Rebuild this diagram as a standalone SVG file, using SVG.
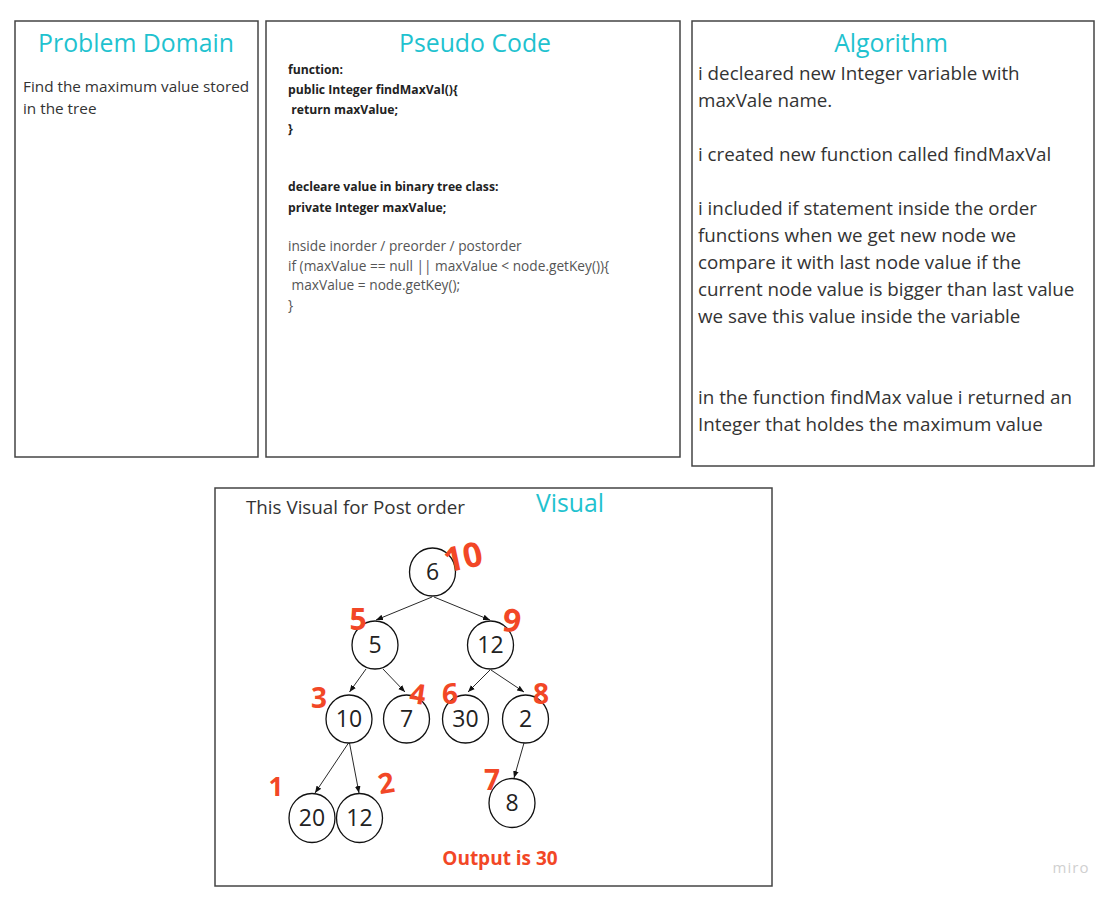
<svg xmlns="http://www.w3.org/2000/svg" width="1113" height="898" viewBox="0 0 1113 898">
<defs>
<style>
.frame{fill:#fff;stroke:#444;stroke-width:1.5}
.title{font-family:"Open Sans","Liberation Sans",sans-serif;font-size:24.8px;fill:#1fc2cf}
.body{font-family:"Open Sans","Liberation Sans",sans-serif;fill:#333}
.code{font-family:"Open Sans","Liberation Sans",sans-serif;font-size:12.2px;fill:#222;font-weight:bold}
.code2{font-family:"Open Sans","Liberation Sans",sans-serif;font-size:13.7px;fill:#555}
.node ellipse{fill:#fff;stroke:#111;stroke-width:1.3}
.node text{font-family:"Open Sans","Liberation Sans",sans-serif;font-size:23px;fill:#222;text-anchor:middle}
.edge{stroke:#111;stroke-width:0.9;fill:none;marker-end:url(#arr)}
.hand{font-family:"Open Sans","Liberation Sans",sans-serif;font-weight:bold;fill:#f24726}
</style>
<marker id="arr" viewBox="0 0 10 10" refX="10" refY="5" markerWidth="7" markerHeight="7" orient="auto" markerUnits="userSpaceOnUse">
<path d="M0,1 L10,5 L0,9 Z" fill="#111"/>
</marker>
</defs>
<rect width="1113" height="898" fill="#fff"/>

<g id="problem-domain">
<rect class="frame" x="15" y="21" width="243" height="436"/>
<text class="title" x="136" y="52" text-anchor="middle">Problem Domain</text>
<text class="body" font-size="15.3" x="23" y="92">Find the maximum value stored</text>
<text class="body" font-size="15.3" x="23" y="114">in the tree</text>
</g>

<g id="pseudo-code">
<rect class="frame" x="266" y="21" width="414" height="436"/>
<text class="title" x="475" y="52" text-anchor="middle">Pseudo Code</text>
<text class="code" x="288" y="74">function:</text>
<text class="code" x="288" y="94">public Integer findMaxVal(){</text>
<text class="code" x="288" y="114" xml:space="preserve"> return maxValue;</text>
<text class="code" x="288" y="133">}</text>
<text class="code" x="288" y="191">decleare value in binary tree class:</text>
<text class="code" x="288" y="212">private Integer maxValue;</text>
<text class="code2" x="288" y="251">inside inorder / preorder / postorder</text>
<text class="code2" x="288" y="271">if (maxValue == null || maxValue &lt; node.getKey()){</text>
<text class="code2" x="288" y="290" xml:space="preserve"> maxValue = node.getKey();</text>
<text class="code2" x="288" y="310">}</text>
</g>

<g id="algorithm">
<rect class="frame" x="692" y="21" width="402" height="445"/>
<text class="title" x="891" y="52" text-anchor="middle">Algorithm</text>
<g class="body" font-size="18.8">
<text x="698" y="80">i decleared new Integer variable with</text>
<text x="698" y="107">maxVale name.</text>
<text x="698" y="161">i created new function called findMaxVal</text>
<text x="698" y="215">i included if statement inside the order</text>
<text x="698" y="242">functions when we get new node we</text>
<text x="698" y="269">compare it with last node value if the</text>
<text x="698" y="296">current node value is bigger than last value</text>
<text x="698" y="323">we save this value inside the variable</text>
<text x="698" y="404">in the function findMax value i returned an</text>
<text x="698" y="431">Integer that holdes the maximum value</text>
</g>
</g>

<g id="visual">
<rect class="frame" x="215" y="488" width="557" height="398"/>
<text class="title" x="570" y="512" text-anchor="middle">Visual</text>
<text class="body" font-size="18.8" x="246" y="514">This Visual for Post order</text>
<text class="hand" font-size="19" x="500" y="865" text-anchor="middle">Output is 30</text>
</g>

<g id="connectors">
<line class="edge" x1="432" y1="597" x2="376" y2="620"/>
<line class="edge" x1="434" y1="597" x2="490" y2="620"/>
<line class="edge" x1="366" y1="669" x2="349.5" y2="692"/>
<line class="edge" x1="383" y1="669" x2="405" y2="692"/>
<line class="edge" x1="490" y1="670" x2="468" y2="692"/>
<line class="edge" x1="491" y1="670" x2="524" y2="692"/>
<line class="edge" x1="348.5" y1="743" x2="315" y2="793"/>
<line class="edge" x1="349.5" y1="743" x2="359" y2="793"/>
<line class="edge" x1="524" y1="743" x2="514" y2="778"/>
</g>

<g id="node-6" class="node"><ellipse cx="432.5" cy="572" rx="23" ry="24"/><text x="432.5" y="580">6</text></g>
<g id="node-5" class="node"><ellipse cx="375" cy="645" rx="23" ry="24"/><text x="375" y="653">5</text></g>
<g id="node-12" class="node"><ellipse cx="490.5" cy="645" rx="23" ry="24"/><text x="490.5" y="653">12</text></g>
<g id="node-10" class="node"><ellipse cx="349" cy="719" rx="23" ry="24"/><text x="349" y="727">10</text></g>
<g id="node-7" class="node"><ellipse cx="406.5" cy="719" rx="23" ry="24"/><text x="406.5" y="727">7</text></g>
<g id="node-30" class="node"><ellipse cx="465.5" cy="719" rx="23" ry="24"/><text x="465.5" y="727">30</text></g>
<g id="node-2" class="node"><ellipse cx="525.5" cy="719" rx="23" ry="24"/><text x="525.5" y="727">2</text></g>
<g id="node-20" class="node"><ellipse cx="312" cy="818" rx="23" ry="24.5"/><text x="312" y="826">20</text></g>
<g id="node-12b" class="node"><ellipse cx="359.5" cy="818" rx="23" ry="24.5"/><text x="359.5" y="826">12</text></g>
<g id="node-8" class="node"><ellipse cx="512" cy="803" rx="23" ry="24.5"/><text x="512" y="811">8</text></g>

<g id="order-marks">
<text class="hand" font-size="34" x="462" y="569" text-anchor="middle" transform="rotate(-12 462 552)">10</text>
<text class="hand" font-size="30" x="358" y="630" text-anchor="middle">5</text>
<text class="hand" font-size="32" x="512" y="632" text-anchor="middle" transform="rotate(8 512 620)">9</text>
<text class="hand" font-size="28" x="319" y="708" text-anchor="middle">3</text>
<text class="hand" font-size="28" x="418" y="704" text-anchor="middle" transform="rotate(8 418 692)">4</text>
<text class="hand" font-size="28" x="450" y="704" text-anchor="middle">6</text>
<text class="hand" font-size="28" x="541" y="704" text-anchor="middle">8</text>
<text class="hand" font-size="26" x="276" y="796" text-anchor="middle">1</text>
<text class="hand" font-size="28" x="386" y="793" text-anchor="middle" transform="rotate(-10 386 782)">2</text>
<text class="hand" font-size="28" x="492" y="790" text-anchor="middle">7</text>
</g>

<text x="1071" y="873" font-family="'Open Sans','Liberation Sans',sans-serif" font-size="15" fill="#d0d0d0" text-anchor="middle" letter-spacing="1">miro</text>
</svg>
